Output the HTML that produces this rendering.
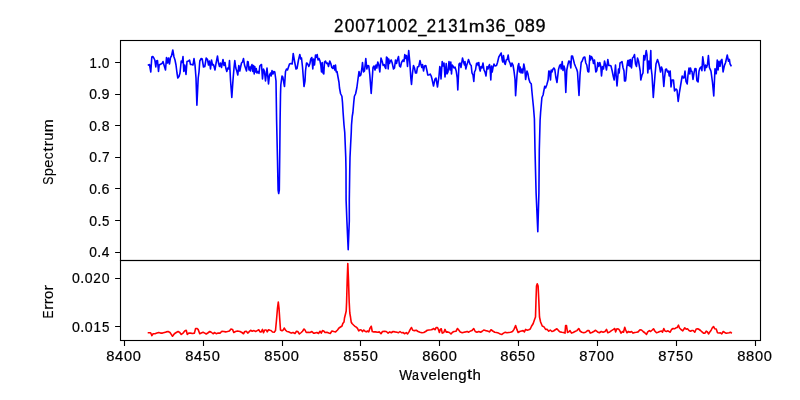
<!DOCTYPE html><html><head><meta charset="utf-8"><style>html,body{margin:0;padding:0;background:#fff;}svg{display:block;will-change:transform;}text{font-family:"Liberation Sans",sans-serif;fill:#000;stroke:#000;stroke-width:0.2px;}.r text{stroke-width:0.12px;}.t text{stroke-width:0.3px;}</style></head><body>
<svg width="800" height="400" viewBox="0 0 800 400">
<rect x="0" y="0" width="800" height="400" fill="#fff"/>
<clipPath id="c1"><rect x="120" y="40" width="640" height="220"/></clipPath>
<g clip-path="url(#c1)"><polyline points="148.50,65.00 149.50,64.50 150.80,72.00 151.80,57.00 152.80,56.50 153.80,58.00 154.80,60.00 155.80,67.00 156.50,61.00 157.50,60.50 158.50,71.50 159.20,65.00 160.00,64.50 161.00,64.00 162.00,63.50 163.00,61.50 164.00,65.00 165.50,70.00 166.50,57.50 167.50,63.00 168.50,58.00 169.50,64.00 170.50,57.50 171.50,56.00 172.80,50.00 174.00,57.00 175.00,60.00 176.00,65.00 177.00,73.00 177.80,78.00 179.00,76.50 180.00,73.00 181.20,61.00 182.20,62.50 183.00,56.50 183.80,71.50 184.80,65.00 186.00,74.50 187.00,61.50 188.50,61.00 189.50,60.00 190.50,64.50 191.80,64.50 193.00,65.00 194.00,58.50 195.00,65.00 196.00,78.00 196.90,105.20 198.20,78.00 199.00,72.00 199.80,61.00 201.20,58.50 202.20,59.00 203.50,67.00 204.80,66.50 206.20,58.00 207.50,59.50 208.50,65.00 209.50,61.00 210.50,69.00 211.50,60.00 212.50,65.00 213.50,64.50 215.00,70.00 216.00,63.50 217.50,56.00 218.50,63.00 219.50,66.50 220.50,63.00 221.50,67.50 223.00,59.50 224.00,65.50 225.00,62.50 225.80,68.00 226.80,71.50 227.80,68.00 228.80,69.00 229.50,60.50 230.50,80.00 231.80,97.50 233.00,80.00 234.00,68.00 234.80,60.50 235.80,68.00 236.80,71.00 237.80,75.00 238.80,65.50 239.80,71.00 240.50,67.50 241.50,63.00 242.50,62.00 243.50,58.50 244.50,65.00 245.50,68.00 246.50,71.00 247.50,61.50 248.20,62.00 249.00,70.00 249.80,67.00 250.50,71.00 251.20,66.50 252.00,64.50 252.80,71.50 253.50,65.50 254.20,74.00 254.80,66.50 255.50,72.00 256.20,68.50 257.00,73.00 258.00,71.50 259.00,73.50 259.80,66.00 260.80,65.00 261.50,64.50 262.50,79.00 263.50,69.00 264.50,71.50 265.50,81.00 267.00,68.00 268.50,84.00 269.50,75.00 270.50,73.00 271.20,76.00 272.00,70.50 273.00,74.00 273.80,71.50 274.80,72.00 276.00,81.00 276.60,120.00 277.50,160.00 278.10,190.00 278.70,193.50 279.30,190.00 279.80,150.00 280.10,120.00 280.50,95.00 280.80,85.00 282.00,76.00 282.80,77.00 284.50,86.50 285.50,71.50 286.50,69.00 287.50,70.00 288.50,67.00 289.50,64.00 291.00,63.50 292.20,64.00 293.20,53.50 294.50,61.00 296.00,69.00 297.00,68.50 298.50,60.00 299.80,54.50 300.80,59.00 301.50,58.00 302.50,67.00 304.00,86.50 305.00,81.00 305.50,71.00 306.50,63.00 307.50,63.50 308.80,66.50 309.80,64.00 310.80,59.00 311.80,57.50 312.80,69.00 313.50,59.00 314.50,65.00 315.50,55.00 316.20,57.50 317.20,54.50 318.00,60.00 319.00,58.50 320.00,61.00 320.80,65.00 321.50,72.00 322.20,62.50 323.00,73.00 323.80,74.00 324.50,62.00 325.50,61.00 326.50,63.50 327.50,63.00 328.50,66.50 329.80,61.00 330.80,63.50 331.80,67.50 332.80,68.50 333.80,65.50 334.80,70.00 335.50,65.00 336.20,72.00 337.00,71.50 338.00,77.00 339.00,82.50 339.50,88.00 340.60,93.75 341.90,96.25 342.50,102.50 343.10,112.50 344.00,125.00 344.75,132.50 345.25,145.00 345.75,157.50 346.00,170.00 346.10,200.00 346.90,221.00 348.20,249.70 349.30,221.00 349.30,200.00 349.75,170.00 350.00,157.50 350.60,145.00 351.25,132.50 351.50,125.00 352.25,116.25 352.90,112.50 353.75,102.50 354.40,96.25 355.60,93.75 356.90,87.50 358.00,79.00 359.00,71.50 359.80,76.00 360.80,75.00 361.80,69.00 362.50,62.50 363.50,72.00 364.50,71.00 365.80,58.50 366.80,69.00 367.80,65.50 368.80,66.00 369.80,75.00 371.20,93.50 373.00,67.50 374.00,66.00 375.00,70.00 376.00,65.00 376.80,68.00 377.80,62.00 378.80,65.00 379.80,72.00 381.00,58.00 382.20,61.50 383.20,65.50 384.20,64.50 385.00,67.00 385.80,68.50 386.50,57.00 387.50,58.00 388.20,69.00 388.80,59.00 389.50,63.50 390.20,61.50 391.20,60.00 392.20,63.00 393.50,69.00 394.50,68.00 395.50,60.00 396.50,63.50 397.50,59.50 398.50,56.50 399.50,66.00 400.50,67.00 401.50,62.50 403.00,60.00 404.00,61.50 404.80,54.50 405.80,58.50 406.50,55.50 407.50,66.50 408.70,50.50 409.80,62.00 410.80,78.00 411.50,84.50 412.50,73.00 413.50,65.50 414.50,68.00 415.50,73.00 416.50,73.00 417.50,67.00 418.80,66.50 420.00,60.50 420.80,64.00 421.80,67.50 422.50,64.50 423.50,71.00 424.50,66.00 425.80,65.50 426.80,70.00 427.80,75.00 429.00,75.00 430.20,74.00 431.20,76.00 432.00,79.00 433.50,86.00 435.00,79.00 436.00,78.00 437.50,87.00 439.00,76.00 439.80,66.50 440.50,69.00 441.00,79.00 442.20,61.50 443.00,66.00 444.00,63.00 445.00,77.00 446.20,63.50 447.00,74.00 448.00,72.00 449.00,61.50 450.00,70.00 450.80,62.00 451.50,74.00 452.20,65.00 453.00,66.00 454.00,68.00 455.00,67.00 456.20,71.00 457.20,78.00 457.80,90.00 459.00,64.00 460.00,63.00 461.00,67.50 462.50,58.00 463.50,62.00 464.50,65.00 465.00,61.50 465.80,69.00 466.80,65.00 467.50,63.00 468.50,59.50 469.50,62.50 470.20,64.50 471.20,65.50 472.00,73.00 473.00,75.00 473.80,81.50 474.50,72.00 475.50,70.00 476.50,63.50 477.50,63.00 478.20,65.50 478.80,62.50 479.50,68.50 480.20,71.00 481.00,66.50 482.00,68.00 483.00,63.00 484.00,70.00 485.00,72.00 486.00,76.00 487.00,66.50 488.00,69.00 488.80,66.00 489.50,64.50 490.20,70.00 490.80,80.00 491.50,66.00 492.20,72.00 493.00,67.50 494.00,64.00 495.00,66.00 496.50,65.50 497.50,62.50 498.80,57.00 500.00,55.00 501.20,53.00 502.20,60.00 502.80,62.00 503.50,55.50 504.50,63.00 505.20,64.50 506.20,60.00 507.20,59.50 508.20,55.00 509.00,61.00 510.00,63.00 511.00,66.50 512.00,63.00 513.00,65.00 514.00,71.00 515.00,79.00 515.60,95.60 517.00,75.00 518.00,66.00 518.80,63.50 519.50,72.00 520.20,67.00 521.00,73.00 522.00,69.00 522.80,73.00 523.80,64.00 524.80,69.00 525.60,79.50 527.00,71.00 528.00,74.00 528.75,78.75 530.00,82.50 531.25,83.75 531.90,91.25 532.75,100.00 533.50,107.50 534.40,118.75 535.00,150.00 536.10,193.00 537.80,231.70 538.90,193.00 539.30,150.00 540.10,120.00 540.60,112.50 541.90,97.50 543.10,95.00 543.75,91.25 544.75,86.25 545.60,88.00 546.90,84.40 548.10,80.00 548.80,71.00 549.50,71.50 550.50,80.00 551.20,70.00 552.00,72.00 552.80,69.50 553.80,68.00 554.80,69.50 555.80,77.00 557.00,82.50 558.50,69.50 559.50,66.00 560.50,64.50 561.20,69.00 562.20,61.50 563.00,70.50 564.00,66.00 564.80,69.00 565.80,92.50 566.80,70.00 567.80,65.00 568.80,61.00 569.80,61.50 570.80,68.00 571.50,56.00 572.50,56.00 573.50,60.00 574.50,64.00 575.50,66.50 576.80,69.50 577.50,72.00 579.00,95.50 580.00,75.00 581.20,62.50 582.20,61.00 583.50,57.50 584.80,57.00 585.80,63.00 586.80,65.00 587.80,71.50 588.80,72.00 589.80,55.50 590.50,60.00 591.50,56.50 592.50,58.50 593.50,63.50 594.50,60.00 595.80,72.00 596.80,70.50 597.80,62.50 598.80,66.50 599.80,62.50 600.80,66.50 601.50,76.00 602.50,66.50 603.50,69.00 604.50,61.00 605.50,65.00 606.50,70.00 607.80,59.50 608.80,65.50 610.00,65.50 611.00,66.00 612.20,71.00 613.20,76.00 614.20,80.00 615.50,65.00 616.20,76.00 617.00,86.00 618.50,69.00 619.20,73.00 620.00,63.00 621.00,62.50 622.00,61.50 623.00,67.50 624.00,71.00 624.50,81.00 625.50,81.00 625.80,79.00 626.80,67.00 627.80,60.50 628.50,65.50 629.20,60.00 630.00,66.50 630.50,59.50 631.50,68.00 632.50,58.00 633.50,57.00 634.50,54.50 635.50,64.00 636.50,66.50 637.50,58.00 638.50,61.00 639.50,67.00 640.20,71.00 640.80,80.00 642.00,75.00 643.00,73.00 643.80,55.50 644.80,60.00 645.50,55.00 646.20,50.50 647.00,55.00 647.80,73.00 648.80,61.00 649.50,69.00 650.20,61.00 650.80,50.50 651.20,68.50 652.00,75.00 653.30,97.50 655.00,75.00 656.00,64.00 657.50,59.50 658.50,62.50 659.50,66.50 660.50,72.00 661.50,67.00 662.50,70.00 663.80,86.50 664.50,78.00 665.50,69.50 666.50,69.00 667.50,72.00 668.50,71.00 669.20,76.00 670.20,71.00 671.00,87.00 672.00,80.00 673.50,80.00 674.50,91.00 676.00,89.00 677.00,90.00 678.20,101.50 679.50,92.00 681.00,83.00 682.20,76.00 683.20,78.00 684.00,78.00 685.00,71.00 686.00,81.50 687.20,84.00 688.00,75.00 689.00,68.00 689.80,74.00 690.50,68.00 691.20,71.00 692.00,71.50 693.00,79.50 694.00,73.00 695.00,68.50 696.00,68.75 696.90,80.60 698.10,81.90 699.00,71.25 700.00,68.10 701.25,66.90 701.90,70.60 702.75,56.90 703.75,63.75 704.75,70.60 705.60,65.00 706.50,67.50 707.50,64.40 708.40,55.60 709.40,67.50 710.25,69.40 711.00,71.25 712.50,82.50 713.75,96.00 715.00,68.75 716.25,73.75 717.25,60.00 718.10,70.00 719.00,61.25 720.00,66.25 721.00,60.60 721.90,59.40 723.10,71.90 724.40,65.60 725.60,62.50 727.25,55.00 728.50,61.25 729.40,59.40 730.00,63.75 731.00,65.60" fill="none" stroke="#0000ff" stroke-width="1.6" stroke-linejoin="round" stroke-linecap="square"/></g>
<clipPath id="c2"><rect x="120" y="260" width="640" height="80"/></clipPath>
<g clip-path="url(#c2)"><polyline points="148.50,332.75 150.60,332.75 151.90,335.60 153.10,333.75 155.00,333.75 156.90,333.10 158.75,332.50 160.60,333.10 162.50,333.10 164.40,332.50 166.25,331.90 168.10,331.50 170.00,332.50 171.25,334.40 172.50,336.25 174.40,333.75 176.25,332.50 178.10,331.50 179.75,332.50 181.25,334.40 183.10,333.10 184.75,331.00 186.25,330.25 187.25,334.40 188.75,333.10 190.60,333.10 192.50,333.50 194.40,333.10 195.60,328.50 196.90,328.50 198.10,329.40 199.75,333.75 201.25,333.10 203.10,332.25 204.75,333.10 206.25,334.00 208.10,332.75 209.75,331.50 211.25,332.25 213.10,333.75 214.75,332.50 216.25,333.75 218.10,333.10 220.00,333.10 221.90,331.25 223.75,331.50 225.60,331.90 227.50,331.50 229.40,331.00 231.00,329.00 232.50,329.40 233.75,332.50 235.60,331.50 237.50,331.00 240.00,331.50 241.90,332.50 243.50,333.75 244.75,331.50 246.25,331.25 247.75,333.10 249.00,331.90 250.60,330.25 252.25,331.25 254.00,330.60 255.60,331.50 257.25,330.60 258.75,329.75 260.00,331.90 261.25,331.90 262.50,329.40 263.50,332.75 264.75,330.00 266.25,330.00 267.25,331.90 268.50,329.75 270.00,330.25 271.00,330.50 272.50,332.00 274.20,332.20 275.50,330.50 276.50,320.00 277.50,308.00 278.30,302.00 279.00,308.00 279.80,320.00 280.50,330.00 282.00,330.80 283.20,330.00 284.20,328.00 285.50,330.20 287.00,331.50 288.50,331.80 290.00,332.50 291.25,333.10 293.10,332.50 295.00,333.50 296.50,331.25 297.75,331.50 299.40,334.00 301.25,332.50 302.50,331.25 304.00,329.00 305.00,330.00 306.25,332.50 308.10,332.25 310.00,332.50 311.90,331.50 313.50,333.10 315.00,333.10 316.90,332.50 318.50,333.50 320.00,331.25 321.25,333.10 322.50,330.60 323.75,331.00 325.00,332.50 326.90,332.25 328.75,333.10 330.25,333.50 331.90,331.00 333.75,331.50 335.60,331.90 337.50,330.00 339.00,328.00 340.50,327.00 342.00,326.00 342.80,323.50 344.00,322.00 344.50,318.00 345.50,314.00 346.20,311.00 346.60,302.00 347.20,280.00 347.80,263.50 348.50,280.00 349.20,302.00 349.80,313.00 350.50,317.00 351.20,322.00 352.00,323.50 353.50,325.00 355.00,326.30 356.25,327.20 357.50,328.40 358.75,331.00 360.00,329.70 361.25,330.00 362.50,331.60 363.75,330.00 365.00,331.25 366.25,331.90 367.50,331.00 368.75,331.90 370.00,328.10 371.25,326.25 372.25,331.50 373.75,331.90 375.60,331.90 377.50,332.25 379.40,331.90 381.00,333.75 382.50,331.50 384.40,331.25 386.25,331.50 388.10,333.10 389.75,331.90 391.25,332.75 393.10,331.50 395.00,331.90 396.90,332.25 398.50,332.75 400.00,331.50 401.50,332.75 403.10,332.50 404.75,333.75 406.25,332.50 407.50,334.00 409.00,331.90 410.25,329.40 411.50,327.50 412.75,330.25 414.40,330.60 416.25,330.25 418.10,331.50 420.00,332.25 421.90,332.75 423.75,332.50 425.60,331.50 427.25,330.25 429.00,330.00 431.00,329.75 432.50,329.40 433.75,328.50 435.00,329.75 436.25,327.50 437.50,327.50 438.50,329.75 439.40,332.50 440.25,329.40 441.25,328.75 442.25,333.10 443.75,332.50 445.00,329.40 446.25,332.25 447.75,331.90 449.40,332.50 451.00,334.00 452.50,332.25 454.00,331.50 456.00,331.25 457.50,328.50 458.75,330.00 460.25,331.90 462.25,332.75 464.00,332.25 465.60,331.90 467.25,331.50 468.75,332.25 470.00,331.25 471.90,330.60 473.75,328.50 475.25,331.50 476.90,332.25 478.75,331.50 480.60,332.25 482.25,331.25 483.75,330.00 485.60,330.60 487.50,331.00 489.40,331.90 491.00,329.75 492.75,331.00 494.75,332.25 496.50,332.50 498.50,333.10 500.25,334.00 501.90,334.40 503.50,333.10 505.25,332.25 506.90,332.75 508.75,332.50 510.60,332.25 512.50,331.50 514.00,329.40 515.60,325.60 516.90,329.40 518.10,332.50 519.75,331.50 521.50,331.00 523.10,330.60 524.40,331.90 525.60,329.40 527.25,330.25 528.75,329.75 530.25,329.00 531.50,326.25 533.10,323.75 534.40,320.00 535.50,317.00 536.00,300.00 536.50,286.00 537.25,283.75 538.10,286.00 538.80,300.00 539.50,317.00 540.60,322.00 542.25,326.00 544.00,326.90 545.60,329.40 547.25,329.40 548.75,331.25 550.25,330.00 551.90,331.50 553.50,331.00 555.25,329.75 556.90,328.75 558.50,330.60 560.00,331.90 561.90,332.25 563.50,332.50 565.00,333.10 565.60,325.60 566.50,325.60 567.50,332.50 568.75,331.90 570.00,330.60 571.50,333.10 573.10,332.50 575.00,331.50 576.90,330.60 578.75,328.50 580.25,331.25 581.90,332.25 583.75,332.75 585.60,332.25 587.50,330.60 589.00,330.60 590.25,333.10 591.90,332.50 593.75,331.50 595.60,330.25 597.50,331.90 599.40,332.75 601.25,331.50 603.10,332.25 605.00,331.50 606.50,329.40 607.75,332.75 609.75,331.90 611.50,330.60 613.50,329.40 614.75,328.50 615.60,331.90 616.90,328.75 618.50,329.00 619.75,330.60 621.00,333.10 622.50,331.50 623.50,332.25 624.75,327.25 625.60,329.75 626.90,332.75 628.50,331.50 630.00,332.25 631.50,331.50 633.10,333.10 634.75,332.50 636.50,332.25 638.10,331.90 640.00,329.75 641.50,330.00 643.10,331.50 644.75,332.75 646.50,334.40 647.75,331.90 649.40,330.60 650.60,331.50 652.25,330.00 653.50,328.75 655.00,331.25 656.50,332.75 658.10,332.25 659.75,331.50 661.50,331.00 662.50,332.20 663.80,328.50 665.00,331.00 666.50,331.50 668.00,330.80 669.50,331.80 670.20,332.20 671.50,329.50 673.00,328.50 674.50,328.80 676.00,327.80 677.20,327.50 678.50,325.20 679.50,328.00 681.00,329.50 682.80,330.80 684.80,327.80 686.20,329.20 687.50,328.80 689.00,330.50 690.50,331.20 692.00,330.50 693.20,330.50 694.80,332.20 696.20,329.00 697.80,328.80 699.20,329.50 700.50,330.50 702.00,331.80 703.50,333.20 704.80,333.20 706.20,331.20 707.50,332.00 708.50,334.00 709.80,332.00 711.00,330.50 712.20,328.00 713.50,326.50 714.80,328.80 716.20,329.00 717.50,332.80 719.00,333.00 720.50,332.80 721.80,333.80 723.20,331.50 724.80,332.50 726.20,333.20 727.80,333.00 729.20,332.80 730.50,332.20 731.20,332.80" fill="none" stroke="#ff0000" stroke-width="1.6" stroke-linejoin="round" stroke-linecap="square"/></g>
<g stroke="#000" stroke-width="1.11" fill="none" stroke-linecap="square">
<rect x="120.5" y="40.5" width="640" height="220"/>
<rect x="120.5" y="260.5" width="640" height="80"/>
</g>
<path d="M115.1 62.50H120 M115.1 94.50H120 M115.1 125.50H120 M115.1 157.50H120 M115.1 188.50H120 M115.1 220.50H120 M115.1 252.50H120 M115.1 278.50H120 M115.1 326.50H120 M124.50 341V345.9 M203.50 341V345.9 M282.50 341V345.9 M360.50 341V345.9 M439.50 341V345.9 M518.50 341V345.9 M597.50 341V345.9 M676.50 341V345.9 M755.50 341V345.9" stroke="#000" stroke-width="1.11" fill="none"/>
<text font-size="13.89" transform="matrix(0.9484,0.0000,0.0000,1.0278,89.40,67.95)">1</text><text font-size="13.89" transform="matrix(1.0192,0.0000,0.0000,1.1250,97.39,67.95)">.</text><text font-size="13.89" transform="matrix(0.9930,0.0000,0.0000,1.0362,101.77,68.00)">0</text>
<text font-size="13.89" transform="matrix(1.0021,0.0000,0.0000,1.0362,89.16,99.25)">0</text><text font-size="13.89" transform="matrix(1.0287,0.0000,0.0000,1.1250,97.34,99.20)">.</text><text font-size="13.89" transform="matrix(1.0351,0.0000,0.0000,1.0362,101.59,99.25)">9</text>
<text font-size="13.89" transform="matrix(1.0008,0.0000,0.0000,1.0362,89.16,131.20)">0</text><text font-size="13.89" transform="matrix(1.0273,0.0000,0.0000,1.1250,97.33,131.15)">.</text><text font-size="13.89" transform="matrix(1.0116,0.0000,0.0000,1.0362,101.70,131.20)">8</text>
<text font-size="13.89" transform="matrix(1.0127,0.0000,0.0000,1.0362,89.15,162.40)">0</text><text font-size="13.89" transform="matrix(1.0395,0.0000,0.0000,1.1250,97.42,162.35)">.</text><text font-size="13.89" transform="matrix(0.9906,0.0000,0.0000,1.0278,101.94,162.35)">7</text>
<text font-size="13.89" transform="matrix(0.9971,0.0000,0.0000,1.0362,89.16,194.20)">0</text><text font-size="13.89" transform="matrix(1.0235,0.0000,0.0000,1.1250,97.30,194.15)">.</text><text font-size="13.89" transform="matrix(1.0320,0.0000,0.0000,1.0362,101.56,194.20)">6</text>
<text font-size="13.89" transform="matrix(1.0141,0.0000,0.0000,1.0362,89.15,226.20)">0</text><text font-size="13.89" transform="matrix(1.0409,0.0000,0.0000,1.1250,97.43,226.15)">.</text><text font-size="13.89" transform="matrix(0.9570,0.0000,0.0000,1.0331,102.07,226.20)">5</text>
<text font-size="13.89" transform="matrix(0.9925,0.0000,0.0000,1.0362,89.16,257.00)">0</text><text font-size="13.89" transform="matrix(1.0188,0.0000,0.0000,1.1250,97.26,256.95)">.</text><text font-size="13.89" transform="matrix(0.9926,0.0000,0.0000,1.0278,101.64,256.95)">4</text>
<text font-size="13.89" transform="matrix(1.0146,0.0000,0.0000,1.0362,71.95,282.90)">0</text><text font-size="13.89" transform="matrix(1.0414,0.0000,0.0000,1.1250,80.23,282.85)">.</text><text font-size="13.89" transform="matrix(1.0146,0.0000,0.0000,1.0362,84.70,282.90)">0</text><text font-size="13.89" transform="matrix(0.9779,0.0000,0.0000,1.0310,93.17,282.85)">2</text><text font-size="13.89" transform="matrix(1.0146,0.0000,0.0000,1.0362,101.71,282.90)">0</text>
<text font-size="13.89" transform="matrix(1.0224,0.0000,0.0000,1.0362,71.95,331.90)">0</text><text font-size="13.89" transform="matrix(1.0495,0.0000,0.0000,1.1250,80.29,331.85)">.</text><text font-size="13.89" transform="matrix(1.0224,0.0000,0.0000,1.0362,84.80,331.90)">0</text><text font-size="13.89" transform="matrix(0.9765,0.0000,0.0000,1.0278,93.48,331.85)">1</text><text font-size="13.89" transform="matrix(0.9649,0.0000,0.0000,1.0331,102.11,331.90)">5</text>
<text font-size="13.89" transform="matrix(1.0630,0.0000,0.0000,1.0362,106.26,360.80)">8</text><text font-size="13.89" transform="matrix(1.0517,0.0000,0.0000,1.0278,115.12,360.75)">4</text><text font-size="13.89" transform="matrix(1.0516,0.0000,0.0000,1.0362,123.93,360.80)">0</text><text font-size="13.89" transform="matrix(1.0516,0.0000,0.0000,1.0362,132.75,360.80)">0</text>
<text font-size="13.89" transform="matrix(1.0630,0.0000,0.0000,1.0362,185.16,360.80)">8</text><text font-size="13.89" transform="matrix(1.0517,0.0000,0.0000,1.0278,194.02,360.75)">4</text><text font-size="13.89" transform="matrix(0.9924,0.0000,0.0000,1.0331,203.01,360.80)">5</text><text font-size="13.89" transform="matrix(1.0516,0.0000,0.0000,1.0362,211.65,360.80)">0</text>
<text font-size="13.89" transform="matrix(1.0630,0.0000,0.0000,1.0362,264.26,360.80)">8</text><text font-size="13.89" transform="matrix(0.9924,0.0000,0.0000,1.0331,273.29,360.80)">5</text><text font-size="13.89" transform="matrix(1.0516,0.0000,0.0000,1.0362,281.93,360.80)">0</text><text font-size="13.89" transform="matrix(1.0516,0.0000,0.0000,1.0362,290.75,360.80)">0</text>
<text font-size="13.89" transform="matrix(1.0630,0.0000,0.0000,1.0362,343.16,360.80)">8</text><text font-size="13.89" transform="matrix(0.9924,0.0000,0.0000,1.0331,352.19,360.80)">5</text><text font-size="13.89" transform="matrix(0.9924,0.0000,0.0000,1.0331,361.01,360.80)">5</text><text font-size="13.89" transform="matrix(1.0516,0.0000,0.0000,1.0362,369.65,360.80)">0</text>
<text font-size="13.89" transform="matrix(1.0630,0.0000,0.0000,1.0362,422.16,360.80)">8</text><text font-size="13.89" transform="matrix(1.0884,0.0000,0.0000,1.0362,430.87,360.80)">6</text><text font-size="13.89" transform="matrix(1.0516,0.0000,0.0000,1.0362,439.83,360.80)">0</text><text font-size="13.89" transform="matrix(1.0516,0.0000,0.0000,1.0362,448.65,360.80)">0</text>
<text font-size="13.89" transform="matrix(1.0630,0.0000,0.0000,1.0362,500.26,360.80)">8</text><text font-size="13.89" transform="matrix(1.0884,0.0000,0.0000,1.0362,508.97,360.80)">6</text><text font-size="13.89" transform="matrix(0.9924,0.0000,0.0000,1.0331,518.11,360.80)">5</text><text font-size="13.89" transform="matrix(1.0516,0.0000,0.0000,1.0362,526.75,360.80)">0</text>
<text font-size="13.89" transform="matrix(1.0630,0.0000,0.0000,1.0362,579.26,360.80)">8</text><text font-size="13.89" transform="matrix(1.0286,0.0000,0.0000,1.0278,588.18,360.75)">7</text><text font-size="13.89" transform="matrix(1.0516,0.0000,0.0000,1.0362,596.93,360.80)">0</text><text font-size="13.89" transform="matrix(1.0516,0.0000,0.0000,1.0362,605.75,360.80)">0</text>
<text font-size="13.89" transform="matrix(1.0630,0.0000,0.0000,1.0362,658.26,360.80)">8</text><text font-size="13.89" transform="matrix(1.0286,0.0000,0.0000,1.0278,667.18,360.75)">7</text><text font-size="13.89" transform="matrix(0.9924,0.0000,0.0000,1.0331,676.11,360.80)">5</text><text font-size="13.89" transform="matrix(1.0516,0.0000,0.0000,1.0362,684.75,360.80)">0</text>
<text font-size="13.89" transform="matrix(1.0630,0.0000,0.0000,1.0362,737.26,360.80)">8</text><text font-size="13.89" transform="matrix(1.0630,0.0000,0.0000,1.0362,746.07,360.80)">8</text><text font-size="13.89" transform="matrix(1.0516,0.0000,0.0000,1.0362,754.93,360.80)">0</text><text font-size="13.89" transform="matrix(1.0516,0.0000,0.0000,1.0362,763.75,360.80)">0</text>
<text font-size="13.89" transform="matrix(0.9853,0.0000,0.0000,1.0596,399.24,379.60)">W</text><text font-size="13.89" transform="matrix(0.8987,0.0000,0.0000,1.0481,411.98,379.65)">a</text><text font-size="13.89" transform="matrix(1.0785,0.0000,0.0000,1.0351,420.54,379.60)">v</text><text font-size="13.89" transform="matrix(1.0795,0.0000,0.0000,1.0481,428.52,379.65)">e</text><text font-size="13.89" transform="matrix(1.0216,0.0000,0.0000,1.0485,437.29,379.60)">l</text><text font-size="13.89" transform="matrix(1.0795,0.0000,0.0000,1.0481,440.92,379.65)">e</text><text font-size="13.89" transform="matrix(1.0775,0.0000,0.0000,1.0408,449.60,379.60)">n</text><text font-size="13.89" transform="matrix(1.0862,0.0000,0.0000,1.0322,458.26,379.51)">g</text><text font-size="13.89" transform="matrix(1.3357,0.0000,0.0000,1.0731,467.03,379.48)">t</text><text font-size="13.89" transform="matrix(1.0850,0.0000,0.0000,1.0485,472.60,379.60)">h</text>
<g class="t"><text font-size="16.67" transform="matrix(1.0109,0.0000,0.0000,1.0629,334.10,31.85)">2</text><text font-size="16.67" transform="matrix(1.0487,0.0000,0.0000,1.0683,344.70,31.91)">0</text><text font-size="16.67" transform="matrix(1.0487,0.0000,0.0000,1.0683,355.25,31.91)">0</text><text font-size="16.67" transform="matrix(1.0259,0.0000,0.0000,1.0596,365.87,31.85)">7</text><text font-size="16.67" transform="matrix(1.0016,0.0000,0.0000,1.0596,376.48,31.85)">1</text><text font-size="16.67" transform="matrix(1.0487,0.0000,0.0000,1.0683,386.89,31.91)">0</text><text font-size="16.67" transform="matrix(1.0487,0.0000,0.0000,1.0683,397.44,31.91)">0</text><text font-size="16.67" transform="matrix(1.0109,0.0000,0.0000,1.0629,407.95,31.85)">2</text><text font-size="16.67" transform="matrix(0.8873,0.0000,0.0000,1.1000,418.20,32.14)">_</text><text font-size="16.67" transform="matrix(1.0109,0.0000,0.0000,1.0629,426.79,31.85)">2</text><text font-size="16.67" transform="matrix(1.0016,0.0000,0.0000,1.0596,437.52,31.85)">1</text><text font-size="16.67" transform="matrix(1.0072,0.0000,0.0000,1.0683,448.15,31.91)">3</text><text font-size="16.67" transform="matrix(1.0016,0.0000,0.0000,1.0596,458.62,31.85)">1</text><text font-size="16.67" transform="matrix(1.1335,0.0000,0.0000,1.0408,468.87,31.85)">m</text><text font-size="16.67" transform="matrix(1.0072,0.0000,0.0000,1.0683,485.40,31.91)">3</text><text font-size="16.67" transform="matrix(1.0854,0.0000,0.0000,1.0683,495.57,31.91)">6</text><text font-size="16.67" transform="matrix(0.8873,0.0000,0.0000,1.1000,505.94,32.14)">_</text><text font-size="16.67" transform="matrix(1.0487,0.0000,0.0000,1.0683,514.58,31.91)">0</text><text font-size="16.67" transform="matrix(1.0601,0.0000,0.0000,1.0683,525.07,31.91)">8</text><text font-size="16.67" transform="matrix(1.0832,0.0000,0.0000,1.0683,535.46,31.91)">9</text></g>
<g class="r"><text font-size="13.89" transform="matrix(0.0000,-0.8763,1.0683,0.0000,52.90,184.85)">S</text><text font-size="13.89" transform="matrix(0.0000,-1.0695,1.0308,0.0000,52.77,176.25)">p</text><text font-size="13.89" transform="matrix(0.0000,-1.0618,1.0481,0.0000,52.90,167.74)">e</text><text font-size="13.89" transform="matrix(0.0000,-0.9864,1.0481,0.0000,52.90,159.30)">c</text><text font-size="13.89" transform="matrix(0.0000,-1.3138,1.0731,0.0000,52.73,151.87)">t</text><text font-size="13.89" transform="matrix(0.0000,-1.2595,1.0408,0.0000,52.85,146.53)">r</text><text font-size="13.89" transform="matrix(0.0000,-1.0599,1.0672,0.0000,52.90,140.79)">u</text><text font-size="13.89" transform="matrix(0.0000,-1.1200,1.0408,0.0000,52.85,132.13)">m</text></g>
<g class="r"><text font-size="13.89" transform="matrix(0.0000,-0.8669,1.0596,0.0000,52.75,318.49)">E</text><text font-size="13.89" transform="matrix(0.0000,-1.2816,1.0408,0.0000,52.75,310.01)">r</text><text font-size="13.89" transform="matrix(0.0000,-1.2816,1.0408,0.0000,52.75,304.54)">r</text><text font-size="13.89" transform="matrix(0.0000,-1.0634,1.0481,0.0000,52.80,299.07)">o</text><text font-size="13.89" transform="matrix(0.0000,-1.2816,1.0408,0.0000,52.75,290.63)">r</text></g>
</svg></body></html>
